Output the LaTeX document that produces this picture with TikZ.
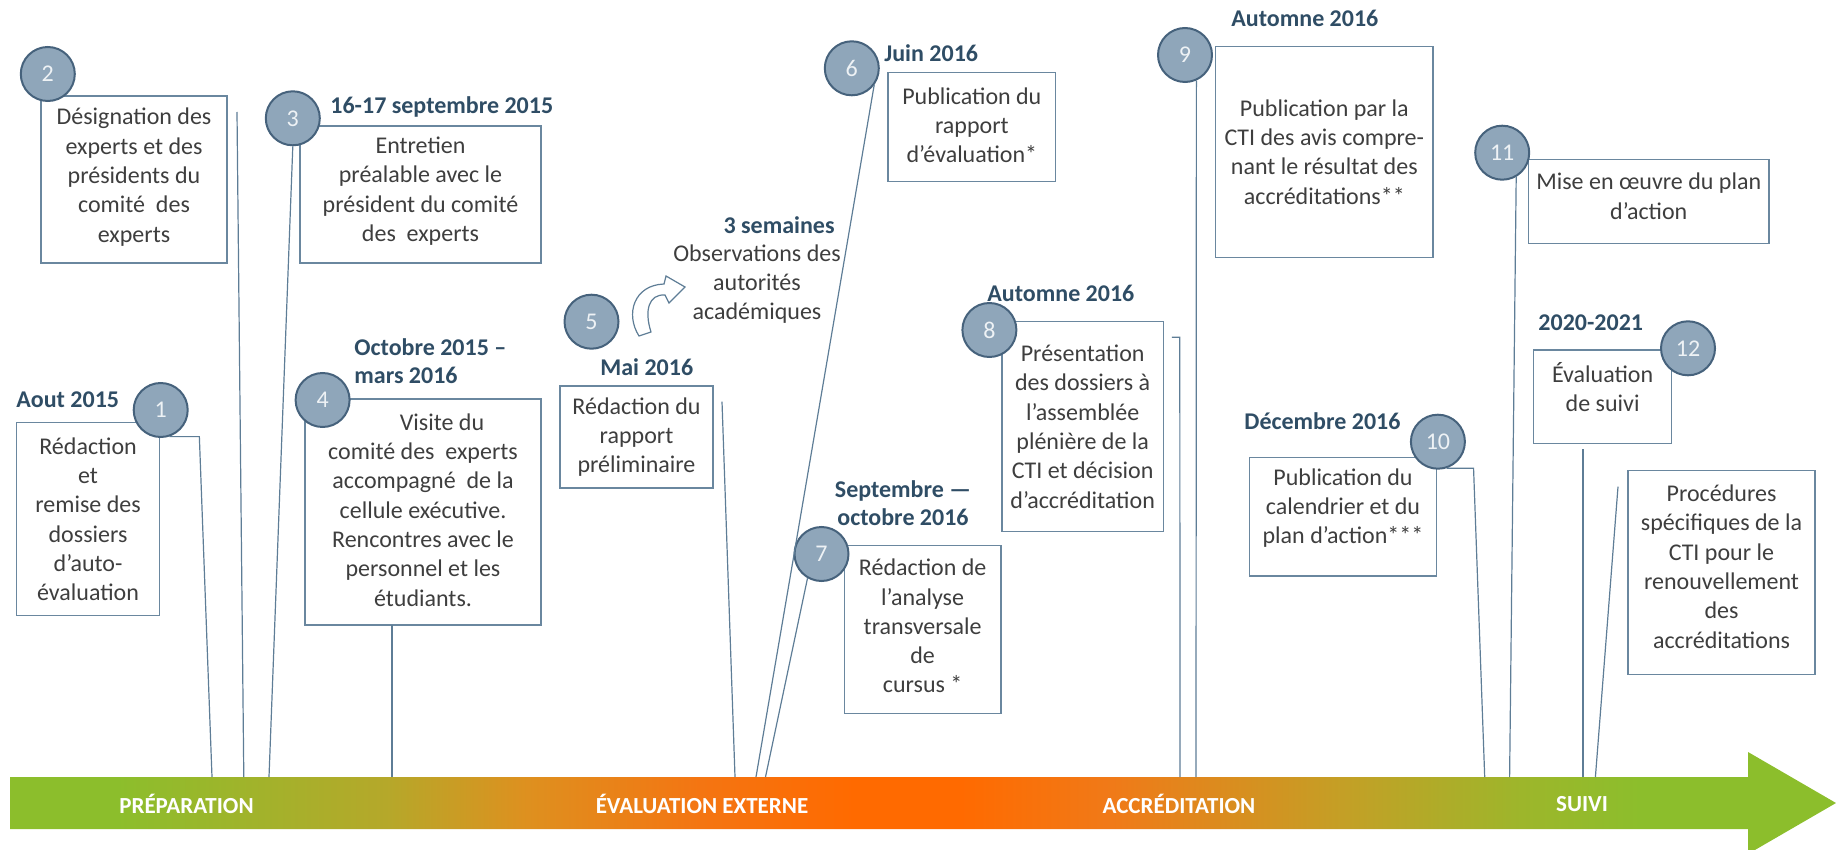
\documentclass[tikz,border=0pt]{standalone}
\usepackage{fontspec}
\setmainfont{Carlito}
\usetikzlibrary{fit}

\definecolor{numfill}{HTML}{8FA6BA}
\definecolor{numline}{HTML}{46627C}
\definecolor{numtext}{HTML}{EEF2F5}
\definecolor{boxline}{HTML}{6A879F}
\definecolor{linkcol}{HTML}{5E7D96}
\definecolor{txtcol}{HTML}{3E3E3E}
\definecolor{datecol}{HTML}{2F4D65}

\definecolor{bargreen}{HTML}{8CBE2C}
\definecolor{barolive}{HTML}{B5A82A}
\definecolor{barochre}{HTML}{DE901F}
\definecolor{barorange}{HTML}{F47512}
\definecolor{bardeep}{HTML}{FF6A00}
\definecolor{barmid}{HTML}{F07A18}
\definecolor{barkhaki}{HTML}{C3A026}
\definecolor{barlime}{HTML}{9DB62B}

\pgfdeclarehorizontalshading{phases}{100bp}{color(0bp)=(bargreen); color(25bp)=(bargreen);
  color(27.93bp)=(bargreen); color(35.3bp)=(barolive); color(39.16bp)=(barochre);
  color(43.89bp)=(barorange); color(48.14bp)=(bardeep); color(51.01bp)=(bardeep);
  color(55.18bp)=(barmid); color(61.61bp)=(barkhaki); color(66.4bp)=(barlime);
  color(69.63bp)=(bargreen); color(75bp)=(bargreen); color(100bp)=(bargreen)}

\tikzset{
  num/.style={circle, draw=numline, fill=numfill, line width=1pt, minimum size=27pt,
    inner sep=0pt, text=numtext, font=\fontsize{12}{14}\selectfont},
  boxframe/.style={draw=boxline, line width=0.7pt, inner sep=0pt},
  txt/.style={align=center, text=txtcol, inner sep=0pt, font=\fontsize{12}{14.65}\selectfont},
  date/.style={anchor=west, text=datecol, inner sep=0pt, font=\bfseries\fontsize{12}{14}\selectfont},
  link/.style={draw=linkcol, line width=0.6pt},
  phaselabel/.style={text=white, inner sep=0pt, font=\bfseries\fontsize{11.5}{13}\selectfont}
}

\begin{document}
\begin{tikzpicture}[x=0.5pt, y=-0.5pt]
\useasboundingbox (0,0) rectangle (1836,850);

% phases
\shade[shading=phases] (10,777) -- (1748,777) -- (1748,752) -- (1836,803) -- (1748,854) -- (1748,829) -- (10,829) -- cycle;
\node[phaselabel] (ph1) at (186.5,804) {PRÉPARATION};
\node[phaselabel] (ph2) at (702,804) {ÉVALUATION EXTERNE};
\node[phaselabel] (ph3) at (1179,804) {ACCRÉDITATION};
\node[phaselabel] (ph4) at (1582,804) {SUIVI};

% feet of the lines on the arrow
\coordinate (f1) at (212,777);
\coordinate (f2) at (243.8,777);
\coordinate (f3) at (269,777);
\coordinate (f4) at (392,777);
\coordinate (f5) at (735,777);
\coordinate (f6) at (756,777);
\coordinate (f7) at (765.5,777);
\coordinate (f8) at (1180,777);
\coordinate (f9) at (1196,777);
\coordinate (f10) at (1484.7,777);
\coordinate (f11) at (1509.6,777);
\coordinate (f12) at (1583,777);
\coordinate (f13) at (1595.4,777);

% boxes
\node[boxframe, fit={(16.5,422.7) (159.6,615.7)},
  label={[txt]center:{Rédaction\\et\\remise des\\dossiers\\d’auto-\\évaluation}}] (b1) {};
\node[boxframe, fit={(41,96) (227,263)},
  label={[txt, yshift=1.2pt]center:{Désignation des\\experts et des\\présidents du\\comité~ des\\experts}}] (b2) {};
\node[boxframe, fit={(300,126) (541,263)},
  label={[txt, yshift=1.7pt]center:{Entretien\\préalable avec le\\président du comité\\des~ experts}}] (b3) {};
\node[boxframe, fit={(305,399) (541,625)},
  label={[txt, yshift=1pt]center:{\hspace*{19pt}Visite du\\comité des~ experts\\accompagné~ de la\\cellule exécutive.\\Rencontres avec le\\personnel et les\\étudiants.}}] (b4) {};
\node[boxframe, fit={(560,386) (713,488)},
  label={[txt]center:{Rédaction du\\rapport\\préliminaire}}] (b5) {};
\node[boxframe, fit={(888,72.7) (1055.7,181.7)},
  label={[txt, yshift=1pt]center:{Publication du\\rapport\\d’évaluation*}}] (b6) {};
\node[boxframe, fit={(844.3,545.7) (1001,713.3)},
  label={[txt, yshift=1.7pt]center:{Rédaction de\\l’analyse\\transversale\\de\\cursus *}}] (b7) {};
\node[boxframe, fit={(1001.8,321.7) (1163.5,531.7)},
  label={[txt]center:{Présentation\\des dossiers à\\l’assemblée\\plénière de la\\CTI et décision\\d’accréditation}}] (b8) {};
\node[boxframe, fit={(1215.6,46.7) (1433,257.3)},
  label={[txt]center:{Publication par la\\CTI des avis compre-\\nant le résultat des\\accréditations**}}] (b9) {};
\node[boxframe, fit={(1249.3,457.3) (1436.6,576)},
  label={[txt, yshift=4.2pt]center:{Publication du\\calendrier et du\\plan d’action***}}] (b10) {};
\node[boxframe, fit={(1528.4,159.3) (1769,243.3)},
  label={[txt, yshift=2.5pt]center:{Mise en œuvre du plan\\d’action}}] (b11) {};
\node[boxframe, fit={(1533.7,350) (1671.5,443.3)},
  label={[txt, yshift=4.8pt]center:{Évaluation\\de suivi}}] (b12) {};
\node[boxframe, fit={(1628,470.7) (1815,674.3)},
  label={[txt, yshift=2.9pt]center:{Procédures\\spécifiques de la\\CTI pour le\\renouvellement\\des\\accréditations}}] (b13) {};

% dates
\node[date] (d1) at (16,400) {Aout 2015};
\node[date] (d3) at (330,107) {16-17 septembre 2015};
\node[date, align=left] (d4) at (354,361) {Octobre 2015 –\\mars 2016};
\node[date] (d5) at (600,366.7) {Mai 2016};
\node[date, anchor=east] (d5b) at (835,225) {3 semaines};
\node[txt] (obs) at (757,284) {Observations des\\autorités\\académiques};
\node[date] (d6) at (884,53.3) {Juin 2016};
\node[date, anchor=center, align=center] (d7) at (903,503) {Septembre —\\octobre 2016};
\node[date] (d8) at (987,293.3) {Automne 2016};
\node[date] (d9) at (1231,18.3) {Automne 2016};
\node[date] (d10) at (1244,420.7) {Décembre 2016};
\node[date] (d12) at (1538,322.7) {2020-2021};

% numbered steps
\node[num] (n1) at (160.7,410) {1};
\node[num] (n2) at (47.8,74) {2};
\node[num] (n3) at (292.8,118.3) {3};
\node[num] (n4) at (322.6,400) {4};
\node[num] (n5) at (591.5,321.7) {5};
\node[num] (n6) at (851.8,68.3) {6};
\node[num] (n7) at (821.5,554) {7};
\node[num] (n8) at (989.4,330) {8};
\node[num] (n9) at (1185,55) {9};
\node[num] (n10) at (1437.9,441.7) {10};
\node[num] (n11) at (1502.2,152.7) {11};
\node[num] (n12) at (1688,348.3) {12};

% free ends of the lines
\coordinate (t2) at (237,112);
\coordinate (t4) at (392,625);
\coordinate (t5) at (722,401.7);
\coordinate (t8) at (1171.8,337.3);
\coordinate (t12) at (1583,449.3);
\coordinate (t13) at (1618,486.7);

\draw[link] (n1.-72) -- ++(30,0) -- (f1);
\draw[link] (t2) -- (f2);
\draw[link] (n3.south) -- (f3);
\draw[link] (t4) -- (f4);
\draw[link] (t5) -- (f5);
\draw[link] (n6.-37) -- (f6);
\draw[link] (n7.-120) -- (f7);
\draw[link] (t8) -- ++(8,0) -- (f8);
\draw[link] (n9.-66) -- (f9);
\draw[link] (n10.-72) -- ++(27,0) -- (f10);
\draw[link] (n11.-60) -- (f11);
\draw[link] (t12) -- (f12);
\draw[link] (t13) -- (f13);

% curved hollow arrow next to step 5
\draw[linkcol, line width=0.6pt, fill=white] (639,336) .. controls (625,314) and (634,285) .. (664,284)
  -- (666,276) -- (685,287) -- (669,303) -- (665,295)
  .. controls (649,294) and (644,310) .. (651,332) -- cycle;

\end{tikzpicture}
\end{document}
